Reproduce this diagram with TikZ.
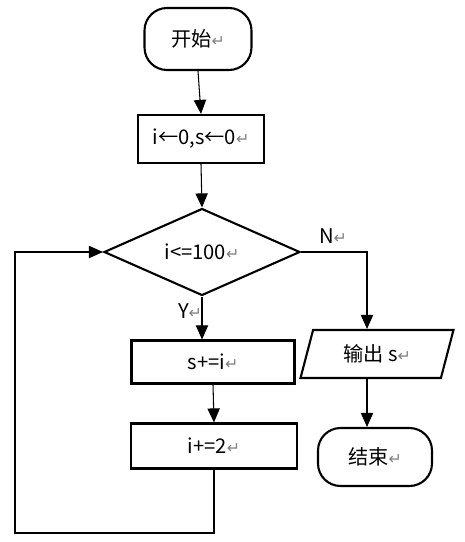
\documentclass[tikz,border=0pt]{standalone}
\usepackage{fontspec}
\setmainfont{Noto Sans CJK SC}
\newfontfamily\marksfont{DejaVu Sans}
\usetikzlibrary{shapes.geometric,arrows.meta}
\newcommand{\pmark}{{\marksfont\color{gray}\small ↵}}

\begin{document}
\begin{tikzpicture}[x=0.02cm,y=-0.02cm,
        term/.style={draw,line width=1.2pt,rounded corners=0.45cm,minimum width=2.14cm,minimum height=1.24cm},
        proc/.style={draw,line width=1.2pt,inner sep=0pt},
        dec/.style={draw,line width=1.2pt,diamond,aspect=2.25,inner sep=0pt,minimum width=3.92cm,minimum height=1.74cm},
        io/.style={draw,line width=1.2pt,trapezium,trapezium left angle=56,trapezium right angle=124,
            trapezium stretches body,inner sep=0pt,minimum width=3.06cm,minimum height=0.96cm},
        arr/.style={-{Triangle[length=8pt,width=7pt]},line width=0.6pt},
        font=\fontsize{11.5}{14}\selectfont]
        \useasboundingbox (0,0) rectangle (465,542);
        %% main column
        \node[term] (start) at (198,39) {开始\pmark};
        \node[proc,minimum width=2.52cm,minimum height=0.96cm] (init) at (201,139) {i←0,s←0\pmark};
        \node[dec] (cond) at (202,252) {i<=100\pmark};
        \node[proc,minimum width=3.26cm,minimum height=0.86cm] (sum) at (213,362) {s+=i\pmark};
        \node[proc,minimum width=3.32cm,minimum height=0.9cm] (inc) at (214,446) {i+=2\pmark};
        %% right column
        \node[io] (out) at (377,354) {输出 s\pmark};
        \node[term,minimum width=2.28cm,minimum height=1.16cm] (stop) at (375,457) {结束\pmark};
        %% labels
        \node (lblY) at (190,311) {Y\pmark};
        \node (lblN) at (333,236) {N\pmark};
        %% connectors
        \coordinate (nturn) at (367,252);
        \coordinate (loopbl) at (15,533);
        \draw[arr] (start.south) -- (init.north);
        \draw[arr] (init.south) -- (cond.north);
        \draw[arr] (cond.south) -- (cond.south |- sum.north);
        \draw[arr] (sum.south) -- (inc.north);
        \draw[arr] (inc.south) |- (loopbl) |- (cond.west);
        \draw[arr] (cond.east) -- (nturn) -- (nturn |- out.north);
        \draw[arr] (nturn |- out.south) -- (nturn |- stop.north);
    \end{tikzpicture}
\end{document}
